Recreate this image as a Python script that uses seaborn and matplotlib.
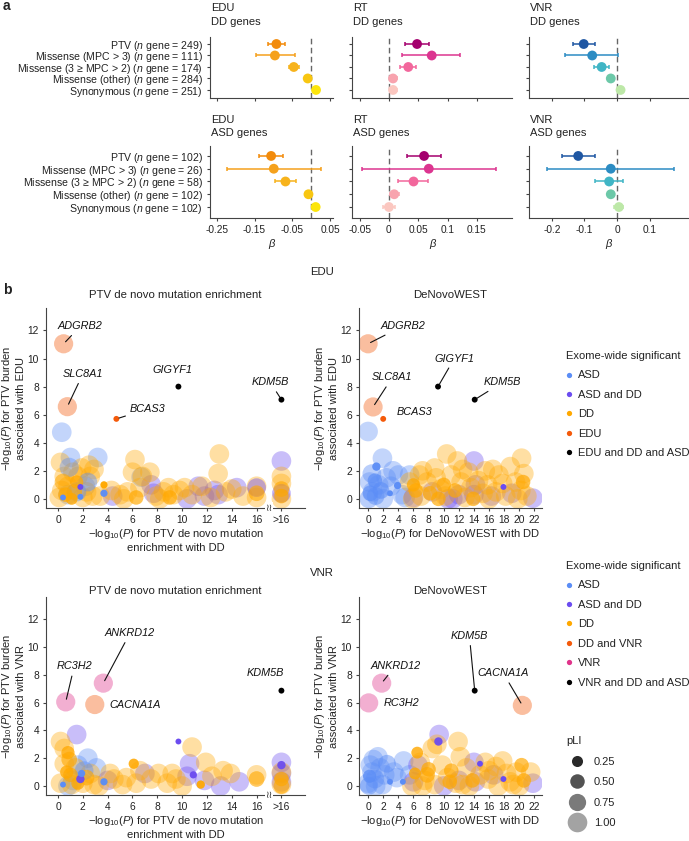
import matplotlib
matplotlib.use("Agg")
import matplotlib.pyplot as plt
import matplotlib.transforms as mtrans
from matplotlib.colors import to_rgba
from matplotlib.lines import Line2D
import numpy as np
import pandas as pd
import seaborn as sns

# ---------------------------------------------------------------- data ----
cats = ["PTV", "Missense (MPC > 3)", "Missense (3 \u2265 MPC > 2)", "Missense (other)", "Synonymous"]
n_dd = [249, 111, 174, 284, 251]
n_asd = [102, 26, 58, 102, 102]

edu_dd_beta = [-0.092, -0.096, -0.046, -0.009, 0.013]
edu_dd_lo = [-0.114, -0.146, -0.058, -0.015, 0.007]
edu_dd_hi = [-0.070, -0.044, -0.032, -0.003, 0.019]
edu_asd_beta = [-0.106, -0.099, -0.068, -0.007, 0.012]
edu_asd_lo = [-0.138, -0.222, -0.096, -0.013, 0.005]
edu_asd_hi = [-0.074, 0.026, -0.040, -0.001, 0.019]

rt_dd_beta = [0.048, 0.073, 0.033, 0.007, 0.007]
rt_dd_lo = [0.027, 0.023, 0.019, 0.001, 0.001]
rt_dd_hi = [0.068, 0.122, 0.047, 0.013, 0.013]
rt_asd_beta = [0.060, 0.068, 0.042, 0.009, 0.000]
rt_asd_lo = [0.030, -0.046, 0.015, 0.001, -0.010]
rt_asd_hi = [0.089, 0.182, 0.067, 0.017, 0.010]

vnr_dd_beta = [-0.102, -0.076, -0.047, -0.019, 0.011]
vnr_dd_lo = [-0.136, -0.158, -0.071, -0.025, 0.005]
vnr_dd_hi = [-0.066, 0.004, -0.024, -0.013, 0.017]
vnr_asd_beta = [-0.119, -0.019, -0.024, -0.019, 0.006]
vnr_asd_lo = [-0.168, -0.214, -0.066, -0.026, -0.008]
vnr_asd_hi = [-0.068, 0.176, 0.018, -0.012, 0.020]

edu_cols = ["#F28B0C", "#F5A11C", "#F7B31C", "#F8C611", "#FCE50C"]
rt_cols = ["#A4006E", "#DC3590", "#F2679C", "#F8A3AE", "#FBC7C0"]
vnr_cols = ["#1F57A3", "#2C8CC3", "#40B5C5", "#6CC8A8", "#BDE8A8"]

# panel b points: (x, y, group, pLI); x > 16 is shown at ">16"
# groups: A = ASD, AD = ASD and DD, D = DD, T = trait only, TD = DD and trait, X = trait and DD and ASD
edu_ptv_pts = [
    (0.3, 4.75, "A", 1), (1.0, 2.95, "A", 1), (3.2, 2.95, "A", 1), (0.4, 0.1, "A", 0), (1.8, 0.15, "A", 0),
    (3.7, 0.4, "A", 0.05), (2.4, 1.2, "A", 0.9), (1.5, 0.5, "A", 0.95), (0.8, 0.3, "A", 1), (6.7, 1.55, "A", 1),
    (0.9, 2.25, "A", 0.95), (2.2, 0.9, "A", 1),
    (1.8, 0.85, "AD", 0), (7.5, 1.0, "AD", 1), (7.7, 0.4, "AD", 1), (11.3, 0.9, "AD", 1), (11.8, 0.2, "AD", 1),
    (12.6, 0.6, "AD", 1), (14.4, 0.8, "AD", 1), (10.4, 0.0, "AD", 1), (30, 2.7, "AD", 1), (24, 0.4, "AD", 0.9),
    (4.4, 0.2, "AD", 1), (12.9, 0.3, "AD", 1), (16, 0.8, "AD", 0.9),
    (0.2, 2.6, "D", 1), (0.1, 0.1, "D", 1), (0.5, 1.6, "D", 1), (0.8, 0.9, "D", 1), (1.2, 1.9, "D", 1),
    (1.5, 1.2, "D", 0.4), (1.9, 2.2, "D", 1), (2.3, 0.5, "D", 1), (2.6, 1.6, "D", 1), (2.9, 2.1, "D", 1),
    (0.6, 0.3, "D", 0.5), (1.1, 0.0, "D", 0.3), (2.0, 0.1, "D", 1), (2.8, 0.2, "D", 1), (3.7, 1.0, "D", 0.05),
    (3.4, 0.2, "D", 1), (4.3, 0.6, "D", 1), (5.0, 0.3, "D", 1), (5.6, 0.5, "D", 1), (6.2, 2.8, "D", 1),
    (6.0, 1.9, "D", 1), (6.6, 0.8, "D", 1), (6.8, 1.6, "D", 1), (7.4, 1.9, "D", 1), (7.9, 0.2, "D", 1),
    (8.5, 0.5, "D", 1), (8.9, 0.8, "D", 1), (9.3, 0.3, "D", 1), (9.8, 0.6, "D", 1), (10.2, 0.8, "D", 1),
    (10.8, 0.3, "D", 1), (11.6, 0.9, "D", 1), (12.3, 0.1, "D", 1), (13.0, 3.2, "D", 1), (12.9, 1.8, "D", 1),
    (13.5, 0.5, "D", 1), (14.0, 0.7, "D", 1), (14.9, 0.2, "D", 1), (16, 0.9, "D", 1), (16, 0.4, "D", 0.6),
    (16, 0.1, "D", 1), (22, 1.6, "D", 1), (20, 1.1, "D", 1), (26, 0.7, "D", 0.6), (19, 0.2, "D", 0.5),
    (28, 0.0, "D", 1), (5.3, 0.0, "D", 1), (6.3, 0.1, "D", 0.5), (8.2, 0.0, "D", 1), (9.0, 0.1, "D", 0.5),
    (0.4, 1.2, "D", 0.7), (1.6, 1.6, "D", 1), (2.5, 2.4, "D", 1), (0.3, 0.6, "D", 1), (1.3, 0.5, "D", 0.6),
]
edu_ptv_genes = [("ADGRB2", 0.45, 11.05, "T", 0.95), ("SLC8A1", 0.75, 6.57, "T", 0.95),
                 ("BCAS3", 4.7, 5.7, "T", 0), ("GIGYF1", 9.7, 8.0, "X", 0), ("KDM5B", 25, 7.07, "X", 0)]

edu_dnw_pts = [
    (0.0, 4.8, "A", 1), (1.9, 2.9, "A", 1), (1.1, 2.3, "A", 0.1), (3.3, 2.0, "A", 1), (4.0, 1.7, "A", 1),
    (3.9, 0.95, "A", 0.05), (2.9, 0.4, "A", 0), (0.2, 1.2, "A", 1), (0.6, 0.5, "A", 1), (1.0, 0.2, "A", 0.8),
    (1.4, 1.0, "A", 1), (2.0, 0.0, "A", 1), (2.4, 1.5, "A", 1), (3.0, 0.9, "A", 1), (0.1, 0.0, "A", 0.9),
    (0.5, 1.8, "A", 0.9), (1.7, 0.6, "A", 0.7), (4.5, 0.3, "A", 1), (5.5, 1.7, "A", 1), (4.9, 0.1, "A", 1),
    (0.9, 1.3, "A", 0.5), (0.3, 0.4, "A", 0.6),
    (14.0, 2.7, "AD", 1), (17.9, 0.85, "AD", 0), (21.8, 0.05, "AD", 1), (14.0, 0.3, "AD", 1), (16.3, 0.2, "AD", 1),
    (10.6, 0.0, "AD", 1), (8.5, 0.5, "AD", 1), (12.0, 0.3, "AD", 1), (19.0, 0.4, "AD", 1), (6.0, 0.1, "AD", 1),
    (14.2, 1.0, "AD", 1), (11.2, 0.0, "AD", 1),
    (10.4, 3.2, "D", 1), (11.8, 2.7, "D", 1), (20.3, 2.9, "D", 1), (16.5, 2.1, "D", 1), (18.8, 2.3, "D", 1),
    (7.2, 2.0, "D", 1), (8.8, 2.2, "D", 1), (13.3, 1.9, "D", 1), (5.5, 1.2, "D", 1), (6.3, 0.6, "D", 0.5),
    (7.0, 0.2, "D", 1), (7.8, 1.2, "D", 1), (8.2, 0.4, "D", 0.5), (9.0, 1.5, "D", 1), (9.6, 0.7, "D", 1),
    (10.2, 0.2, "D", 1), (11.0, 1.7, "D", 1), (11.5, 0.6, "D", 0.5), (12.3, 1.2, "D", 1), (12.8, 0.1, "D", 1),
    (13.6, 0.8, "D", 1), (14.6, 1.3, "D", 1), (15.2, 0.4, "D", 1), (15.8, 1.0, "D", 1), (16.9, 0.5, "D", 1),
    (17.3, 1.7, "D", 1), (18.2, 0.2, "D", 1), (19.5, 1.2, "D", 1), (20.2, 0.6, "D", 1), (20.6, 1.8, "D", 1),
    (21.0, 0.2, "D", 1), (5.9, 0.0, "D", 1), (9.3, 0.0, "D", 0.5), (12.5, 2.1, "D", 1), (15.5, 2.0, "D", 1),
    (17.8, 1.1, "D", 1), (19.8, 0.0, "D", 1), (6.8, 1.7, "D", 1), (16.0, 0.0, "D", 1), (13.9, 0.0, "D", 0.5),
    (6.0, 1.0, "D", 0.4), (10.0, 1.0, "D", 0.5), (20.5, 1.2, "D", 0.5),
]
edu_dnw_genes = [("ADGRB2", 0.0, 11.05, "T", 0.95), ("SLC8A1", 0.66, 6.55, "T", 0.95),
                 ("BCAS3", 2.0, 5.7, "T", 0), ("GIGYF1", 9.25, 8.0, "X", 0), ("KDM5B", 14.1, 7.07, "X", 0)]

vnr_ptv_pts = [
    (2.4, 2.0, "A", 1), (3.1, 1.3, "A", 1), (0.4, 0.1, "A", 0), (1.9, 0.9, "A", 0.05), (3.7, 0.3, "A", 0.05),
    (1.2, 0.4, "A", 1), (2.1, 1.1, "A", 0.9), (0.8, 0.0, "A", 1), (1.6, 1.5, "A", 1),
    (1.5, 3.7, "AD", 1), (9.7, 3.2, "AD", 0), (10.6, 1.6, "AD", 1), (10.4, 0.7, "AD", 1), (10.9, 0.8, "AD", 0.05),
    (7.0, 0.9, "AD", 1), (14.6, 0.3, "AD", 1), (13.1, 0.0, "AD", 1), (11.8, 0.4, "AD", 1), (4.0, 0.4, "AD", 1),
    (1.8, 0.5, "AD", 0.1), (30, 1.7, "AD", 1), (22, 1.5, "AD", 0.1), (26, 0.9, "AD", 1), (19, 0.3, "AD", 1),
    (0.2, 3.2, "D", 1), (0.5, 2.7, "D", 1), (0.8, 2.4, "D", 0.4), (0.5, 1.6, "D", 1), (1.0, 0.8, "D", 0.5),
    (0.2, 0.2, "D", 1), (1.4, 1.3, "D", 1), (0.7, 1.0, "D", 0.4), (1.1, 0.1, "D", 1), (2.0, 0.2, "D", 1),
    (2.6, 0.9, "D", 1), (1.6, 0.2, "D", 0.4), (2.9, 0.1, "D", 1), (4.5, 0.5, "D", 1), (5.2, 0.1, "D", 1),
    (5.5, 0.6, "D", 1), (6.1, 1.6, "D", 0.2), (6.3, 0.2, "D", 1), (6.6, 1.1, "D", 1), (8.1, 0.9, "D", 1),
    (8.8, 0.2, "D", 1), (9.5, 0.5, "D", 1), (10.0, 0.0, "D", 1), (10.8, 2.8, "D", 1), (11.9, 1.7, "D", 1),
    (11.5, 0.1, "D", 0.1), (12.4, 0.7, "D", 1), (13.3, 1.1, "D", 1), (13.9, 0.9, "D", 1), (16, 0.8, "D", 1),
    (16, 0.5, "D", 0.6), (20, 1.0, "D", 1), (24, 0.5, "D", 0.5), (21, 0.1, "D", 1), (27, 0.0, "D", 0.6),
    (7.5, 0.5, "D", 1), (9.2, 0.9, "D", 1), (0.9, 1.9, "D", 0.6), (2.3, 0.6, "D", 0.6), (3.3, 0.0, "D", 1),
    (4.2, 0.9, "D", 1),
]
vnr_ptv_genes = [("ANKRD12", 3.65, 7.4, "T", 0.95), ("RC3H2", 0.62, 6.05, "T", 0.95),
                 ("CACNA1A", 2.96, 5.86, "TD", 0.95), ("KDM5B", 25, 6.86, "X", 0)]

vnr_dnw_pts = [
    (1.3, 2.1, "A", 1), (4.7, 1.8, "A", 1), (2.9, 0.3, "A", 0), (4.6, 0.3, "A", 0), (0.0, 0.2, "A", 1),
    (0.5, 1.0, "A", 1), (0.9, 0.5, "A", 0.9), (1.6, 1.3, "A", 1), (2.2, 0.8, "A", 1), (0.3, 1.5, "A", 1),
    (3.4, 1.0, "A", 1), (1.0, 0.0, "A", 1), (2.5, 1.6, "A", 0.8), (0.2, 0.7, "A", 0.4), (1.9, 0.1, "A", 1),
    (3.8, 0.6, "A", 1), (5.5, 0.8, "A", 1), (0.7, 1.9, "A", 1), (0.1, 0.0, "A", 0.8),
    (9.4, 3.7, "AD", 1), (9.3, 3.2, "AD", 0.1), (14.8, 1.6, "AD", 0), (17.9, 0.5, "AD", 0), (21.8, 0.2, "AD", 1),
    (14.0, 1.7, "AD", 1), (14.2, 0.3, "AD", 1), (6.6, 1.5, "AD", 1), (10.0, 0.0, "AD", 1), (12.0, 0.4, "AD", 1),
    (16.6, 0.8, "AD", 1), (6.0, 0.3, "AD", 1),
    (6.5, 2.4, "D", 0.3), (8.5, 2.7, "D", 1), (9.1, 3.0, "D", 1), (11.9, 3.2, "D", 1), (6.9, 1.7, "D", 1),
    (7.5, 0.4, "D", 1), (8.0, 1.2, "D", 0.5), (9.8, 1.5, "D", 1), (10.5, 0.6, "D", 1), (11.0, 1.1, "D", 0.5),
    (12.5, 0.1, "D", 1), (13.0, 1.3, "D", 1), (15.5, 1.7, "D", 1), (15.9, 0.5, "D", 1), (16.9, 1.4, "D", 1),
    (17.8, 1.8, "D", 1), (18.8, 0.3, "D", 1), (19.6, 1.0, "D", 1), (20.3, 1.5, "D", 0.5), (20.6, 0.4, "D", 0.5),
    (21.5, 1.0, "D", 1), (5.8, 0.0, "D", 1), (7.2, 0.0, "D", 1), (8.8, 0.1, "D", 1), (11.6, 0.2, "D", 1),
    (13.4, 0.0, "D", 1), (14.8, 0.8, "D", 1), (17.2, 0.0, "D", 1), (19.2, 0.1, "D", 1), (6.2, 0.9, "D", 0.3),
    (12.2, 2.1, "D", 1), (16.0, 1.1, "D", 1), (7.8, 0.8, "D", 0.6), (10.8, 0.3, "D", 0.5), (13.8, 0.4, "D", 0.5),
    (18.3, 0.9, "D", 1), (20.0, 0.0, "D", 1),
]
vnr_dnw_genes = [("ANKRD12", 1.8, 7.4, "T", 0.95), ("RC3H2", 0.08, 5.98, "T", 0.95),
                 ("KDM5B", 14.1, 6.86, "X", 0), ("CACNA1A", 20.4, 5.8, "TD", 0.95)]

# gene label placement (text x, text y, alignment, leader line)
edu_ptv_lab = [(1.8, 12.3, "center", True), (2.0, 8.9, "center", True), (5.8, 6.4, "left", True),
               (9.2, 9.2, "center", False), (17.1, 8.3, "center", True)]
edu_dnw_lab = [(1.6, 12.3, "left", True), (3.2, 8.65, "center", True), (6.1, 6.2, "center", False),
               (11.4, 10.0, "center", True), (15.3, 8.3, "left", True)]
vnr_ptv_lab = [(5.8, 11.0, "center", True), (1.3, 8.6, "center", True), (4.1, 5.86, "left", False),
               (16.7, 8.14, "center", False)]
vnr_dnw_lab = [(3.6, 8.64, "center", True), (2.0, 6.0, "left", False), (13.4, 10.8, "center", True),
               (17.9, 8.1, "center", True)]

# ---------------------------------------------------------------- style ---
sns.set_theme(style="ticks")
plt.rcParams.update({
    "font.family": ["Liberation Sans", "DejaVu Sans"],
    "font.size": 7.8,
    "mathtext.fontset": "custom",
    "mathtext.rm": "Liberation Sans",
    "mathtext.it": "Liberation Sans:italic",
    "mathtext.bf": "Liberation Sans:bold",
    "axes.linewidth": 0.8,
    "axes.edgecolor": "#444444",
    "axes.labelsize": 8,
    "axes.labelcolor": "#222222",
    "xtick.labelsize": 7.4,
    "ytick.labelsize": 7.6,
    "xtick.color": "#444444",
    "ytick.color": "#444444",
    "xtick.labelcolor": "#222222",
    "ytick.labelcolor": "#222222",
    "xtick.major.size": 2.5,
    "ytick.major.size": 2.5,
    "xtick.major.width": 0.8,
    "ytick.major.width": 0.8,
    "xtick.major.pad": 2.5,
    "ytick.major.pad": 2.5,
    "text.color": "#222222",
    "axes.unicode_minus": False,
})

W, H = 689, 841
fig = plt.figure(figsize=(W / 100, H / 100), dpi=100)


def box(l, t, r, b):
    return [l / W, 1 - b / H, (r - l) / W, (b - t) / H]


def ftext(x, y, s, **kw):
    fig.text(x / W, 1 - y / H, s, **kw)


# ------------------------------------------------------------- panel a ----
def forest(ax, beta, lo, hi, colors, xlim, xticks, ylim, ylabels, show_x):
    pos = np.arange(len(beta))
    for i in pos:
        ax.errorbar(beta[i], i, xerr=[[beta[i] - lo[i]], [hi[i] - beta[i]]], fmt="none",
                    ecolor=colors[i], elinewidth=1.1, capsize=1.6, capthick=1.1, zorder=2)
    df = pd.DataFrame({"beta": beta, "pos": pos, "cat": cats})
    sns.scatterplot(data=df, x="beta", y="pos", hue="cat", palette=dict(zip(cats, colors)),
                    s=50, linewidth=0, legend=False, ax=ax, zorder=3)
    ax.axvline(0, color="#666666", lw=1, ls=(0, (4, 2.5)), zorder=1)
    ax.set_xlim(xlim)
    ax.set_ylim(ylim)
    ax.set_yticks(pos)
    ax.set_yticklabels(ylabels if ylabels else [])
    ax.set_xticks(xticks)
    ax.tick_params(axis="x", labelsize=7.3)
    if show_x:
        ax.set_xticklabels([f"{t:g}" if abs(t) > 1e-9 else "0" for t in xticks])
        ax.set_xlabel("\u03b2", fontstyle="italic", labelpad=3, fontsize=8)
    else:
        ax.set_xticklabels([])
        ax.set_xlabel("")
    ax.set_ylabel("")
    sns.despine(ax=ax)


cols_px = [(210, 333), (352, 512), (529, 688)]
traits = ["EDU", "RT", "VNR"]
colsets = [edu_cols, rt_cols, vnr_cols]
xlims = [(-0.268, 0.058), (-0.063, 0.21), (-0.27, 0.218)]
xtick_sets = [[-0.25, -0.15, -0.05, 0.05], [-0.05, 0, 0.05, 0.10, 0.15], [-0.2, -0.1, 0, 0.1]]
dd_data = [(edu_dd_beta, edu_dd_lo, edu_dd_hi), (rt_dd_beta, rt_dd_lo, rt_dd_hi), (vnr_dd_beta, vnr_dd_lo, vnr_dd_hi)]
asd_data = [(edu_asd_beta, edu_asd_lo, edu_asd_hi), (rt_asd_beta, rt_asd_lo, rt_asd_hi),
            (vnr_asd_beta, vnr_asd_lo, vnr_asd_hi)]
dd_labels = [f"{c} ($n$ gene = {n})" for c, n in zip(cats, n_dd)]
asd_labels = [f"{c} ($n$ gene = {n})" for c, n in zip(cats, n_asd)]

for j, ((l, r), trait) in enumerate(zip(cols_px, traits)):
    ax1 = fig.add_axes(box(l, 37, r, 98))
    b, lo, hi = dd_data[j]
    forest(ax1, b, lo, hi, colsets[j], xlims[j], xtick_sets[j], (4.7, -0.61),
           dd_labels if j == 0 else None, False)
    ftext(l + 1, 8, trait, fontsize=8, va="center")
    ftext(l + 1, 22, "DD genes", fontsize=8, va="center")

    ax2 = fig.add_axes(box(l, 146, r, 218))
    b, lo, hi = asd_data[j]
    forest(ax2, b, lo, hi, colsets[j], xlims[j], xtick_sets[j], (4.86, -0.78),
           asd_labels if j == 0 else None, True)
    ftext(l + 1, 120, trait, fontsize=8, va="center")
    ftext(l + 1, 133, "ASD genes", fontsize=8, va="center")

ftext(3, 6, "a", fontsize=10, fontweight="bold", va="center")
ftext(3, 290, "b", fontsize=10, fontweight="bold", va="center")

# ------------------------------------------------------------- panel b ----
base_pal = {"A": "#5B8DF6", "AD": "#6B4CF0", "D": "#FFA800", "TD": "#F45A0A", "X": "#000000"}
trait_col = {"EDU": "#F45A0A", "VNR": "#E0338B"}
S_MIN, S_MAX = 18, 200


def pli_alpha(p):
    return 1 - 0.64 * p


def scatter_panel(ax, pts, genes, labs, trait, ptv):
    pal = dict(base_pal, T=trait_col[trait])
    df = pd.DataFrame(pts + [g[1:] for g in genes], columns=["x", "y", "grp", "pli"])
    if ptv:
        df.loc[df["x"] > 16, "x"] = 18
    df = df.sort_values("pli", ascending=False, kind="stable").reset_index(drop=True)
    sns.scatterplot(data=df, x="x", y="y", hue="grp", palette=pal, size="pli",
                    sizes=(S_MIN, S_MAX), size_norm=(0, 1), linewidth=0, legend=False, ax=ax)
    coll = ax.collections[-1]
    coll.set_facecolor([to_rgba(pal[g], pli_alpha(p)) for g, p in zip(df["grp"], df["pli"])])
    coll.set_edgecolor("none")

    for (name, gx, gy, _, _), (tx, ty, ha, line) in zip(genes, labs):
        if ptv and gx > 16:
            gx = 18
        arrow = dict(arrowstyle="-", lw=0.8, color="#111111", shrinkA=1, shrinkB=2) if line else None
        ax.annotate(name, xy=(gx, gy), xytext=(tx, ty), ha=ha, va="center", fontsize=7.8,
                    fontstyle="italic", color="#111111", arrowprops=arrow)

    ax.set_ylim(-0.65, 13.6)
    ax.set_yticks(range(0, 13, 2))
    if ptv:
        ax.set_xlim(-0.97, 19.9)
        ax.set_xticks(range(0, 19, 2))
        ax.set_xticklabels([str(t) for t in range(0, 17, 2)] + [">16"])
        tr = mtrans.blended_transform_factory(ax.transData, ax.transAxes)
        ax.text(17, 0, "\u2240\u2240", transform=tr, ha="center", va="center", fontsize=7,
                family=["DejaVu Sans"], color="#333333", clip_on=False,
                bbox=dict(facecolor="white", edgecolor="none", pad=0.4))
        ax.set_xlabel("\u2212log$_{10}$($P$) for PTV de novo mutation\nenrichment with DD", labelpad=1.5)
    else:
        ax.set_xlim(-1.2, 23.0)
        ax.set_xticks(range(0, 23, 2))
        ax.set_xlabel("\u2212log$_{10}$($P$) for DeNovoWEST with DD", labelpad=1.5)
    ax.set_ylabel(f"\u2212log$_{{10}}$($P$) for PTV burden\nassociated with {trait}", labelpad=1.5)
    ax.tick_params(axis="both", labelsize=7.4)
    sns.despine(ax=ax)


ax_ep = fig.add_axes(box(46, 308, 305, 508))
scatter_panel(ax_ep, edu_ptv_pts, edu_ptv_genes, edu_ptv_lab, "EDU", True)
ax_ew = fig.add_axes(box(359, 308, 542, 508))
scatter_panel(ax_ew, edu_dnw_pts, edu_dnw_genes, edu_dnw_lab, "EDU", False)
ax_vp = fig.add_axes(box(46, 597, 305, 795))
scatter_panel(ax_vp, vnr_ptv_pts, vnr_ptv_genes, vnr_ptv_lab, "VNR", True)
ax_vw = fig.add_axes(box(359, 597, 542, 795))
scatter_panel(ax_vw, vnr_dnw_pts, vnr_dnw_genes, vnr_dnw_lab, "VNR", False)

ftext(322, 272, "EDU", fontsize=8.2, ha="center", va="center")
ftext(322, 573, "VNR", fontsize=8.2, ha="center", va="center")
ftext(175.5, 295, "PTV de novo mutation enrichment", fontsize=8.2, ha="center", va="center")
ftext(450.5, 295, "DeNovoWEST", fontsize=8.2, ha="center", va="center")
ftext(175.5, 591, "PTV de novo mutation enrichment", fontsize=8.2, ha="center", va="center")
ftext(450.5, 591, "DeNovoWEST", fontsize=8.2, ha="center", va="center")


# legends
def sig_handles(trait, items):
    pal = dict(base_pal, T=trait_col[trait])
    hs = [Line2D([], [], ls="", marker="o", markersize=3.8, markeredgewidth=0, color=pal[k]) for k, _ in items]
    return hs, [lab for _, lab in items]


edu_items = [("A", "ASD"), ("AD", "ASD and DD"), ("D", "DD"), ("T", "EDU"), ("X", "EDU and DD and ASD")]
vnr_items = [("A", "ASD"), ("AD", "ASD and DD"), ("D", "DD"), ("TD", "DD and VNR"), ("T", "VNR"),
             ("X", "VNR and DD and ASD")]

for trait, items, ytop in [("EDU", edu_items, 351), ("VNR", vnr_items, 561)]:
    hs, labs = sig_handles(trait, items)
    fig.legend(hs, labs, loc="upper left", bbox_to_anchor=(566 / W, 1 - ytop / H), frameon=False,
               title="Exome-wide significant", alignment="left", fontsize=8, title_fontsize=8,
               handlelength=0.6, handletextpad=0.45, labelspacing=0.85, borderpad=0, borderaxespad=0)

pli_levels = [0.25, 0.50, 0.75, 1.00]
pli_hs = [Line2D([], [], ls="", marker="o", markeredgewidth=0,
                 markersize=np.sqrt(S_MIN + (S_MAX - S_MIN) * p), color=to_rgba("#000000", pli_alpha(p)))
          for p in pli_levels]
fig.legend(pli_hs, [f"{p:.2f}" for p in pli_levels], loc="upper left", bbox_to_anchor=(566 / W, 1 - 736 / H),
           frameon=False, title="pLI", alignment="left", fontsize=8, title_fontsize=8,
           handlelength=2.0, handletextpad=0.5, labelspacing=0.95, borderpad=0, borderaxespad=0)

fig.savefig("out.png", dpi=100)
